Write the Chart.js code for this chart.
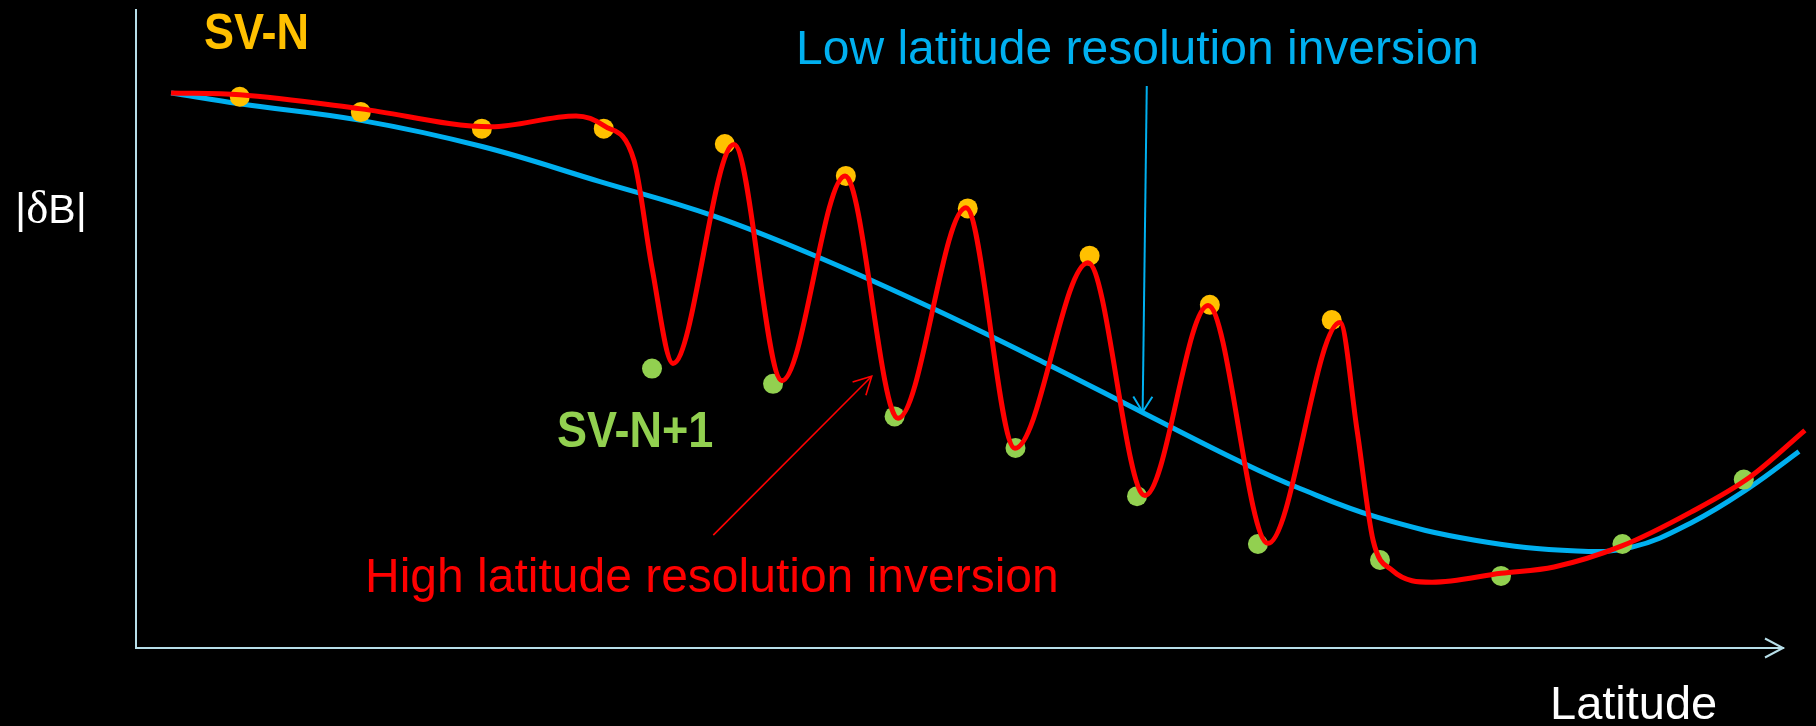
<!DOCTYPE html>
<html>
<head>
<meta charset="utf-8">
<script src="https://cdn.jsdelivr.net/npm/chart.js@4.4.1/dist/chart.umd.min.js"></script>
<style>
html, body { margin: 0; padding: 0; background: #000; overflow: hidden; }
#wrap { position: relative; width: 1816px; height: 726px; }
</style>
</head>
<body>
<div id="wrap"><canvas id="c"></canvas></div>
<script>
// ---- Data (latitude in arbitrary units 0..100, |dB| in arbitrary units 0..100) ----
const xRange = [0, 100];
const yRange = [0, 100];

// SV-N (yellow dots)
const svNLat = [6.3, 13.65, 21.0, 28.4, 35.75, 43.1, 50.5, 57.9, 65.2, 72.6];
const svNVal = [86.4, 84.0, 81.4, 81.4, 79.0, 74.0, 68.9, 61.5, 53.8, 51.4];

// SV-N+1 (green dots)
const svN1Lat = [31.33, 38.68, 46.06, 53.40, 60.78, 68.12, 75.53, 82.88, 90.25, 97.62];
const svN1Val = [43.8, 41.4, 36.3, 31.35, 23.8, 16.3, 13.8, 11.3, 16.3, 26.4];

// Low latitude resolution inversion (blue curve)
const lowResLat = [2.13, 6.31, 13.66, 21.01, 28.17, 34.97, 41.47, 48.39, 55.25, 61.20, 67.21, 70.67, 75.35, 81.30, 87.49, 90.83, 94.41, 98.00, 100.97];
const lowResVal = [87.0, 85.3, 82.7, 78.6, 73.1, 67.8, 61.2, 53.2, 44.6, 36.8, 29.0, 25.0, 20.5, 16.9, 15.2, 15.8, 19.6, 25.2, 30.8];

// High latitude resolution inversion (red curve)
const highResLat = [2.13, 6.31, 13.66, 21.55, 26.72, 28.42, 30.24, 31.33, 32.60, 36.31, 39.22, 43.05, 46.27, 50.39, 53.37, 57.80, 61.26, 65.09, 68.73, 73.10, 74.14, 75.11, 76.26, 78.69, 82.88, 86.10, 90.22, 94.41, 98.00, 101.33];
const highResVal = [87.0, 86.7, 84.5, 81.7, 83.4, 81.85, 76.4, 59.6, 44.6, 78.9, 41.9, 74.0, 36.0, 69.0, 31.3, 60.4, 23.9, 53.7, 16.4, 51.0, 34.1, 16.9, 12.2, 10.3, 11.7, 12.7, 16.0, 21.3, 26.8, 34.1];

// Annotation arrows (data coordinates: [x0, y0, x1(tip), y1(tip)])
const lowArrow = [61.37, 88.1, 61.12, 37.0];
const highArrow = [35.05, 17.7, 44.67, 42.6];

const pts = (xs, ys) => xs.map((x, i) => ({ x, y: ys[i] }));

const C_AXIS = '#B7DEE8';
const C_BLUE = '#00B0F0';
const C_RED = '#FF0000';
const C_YEL = '#FFC000';
const C_GRN = '#92D050';
const FONT = '"Liberation Sans", Arial, sans-serif';

function arrowHead(ctx, x0, y0, x1, y1, len, angDeg) {
  const a = Math.atan2(y0 - y1, x0 - x1);
  const d = angDeg * Math.PI / 180;
  ctx.beginPath();
  ctx.moveTo(x1 + len * Math.cos(a + d), y1 + len * Math.sin(a + d));
  ctx.lineTo(x1, y1);
  ctx.lineTo(x1 + len * Math.cos(a - d), y1 + len * Math.sin(a - d));
  ctx.stroke();
}

function condensedText(ctx, text, x, y, sx) {
  ctx.save();
  ctx.translate(x, y);
  ctx.scale(sx, 1);
  ctx.fillText(text, 0, 0);
  ctx.restore();
}

const decor = {
  id: 'decor',
  beforeDraw(chart) {
    const ctx = chart.ctx;
    ctx.save();
    ctx.fillStyle = '#000';
    ctx.fillRect(0, 0, chart.width, chart.height);
    ctx.restore();
  },
  afterDraw(chart) {
    const { ctx, scales: { x, y } } = chart;
    ctx.save();
    // x-axis arrow head
    ctx.strokeStyle = C_AXIS;
    ctx.lineWidth = 2;
    ctx.lineCap = 'butt';
    const ay = y.getPixelForValue(yRange[0]);
    ctx.beginPath();
    ctx.moveTo(x.right - 18, ay - 9.5);
    ctx.lineTo(x.right, ay);
    ctx.lineTo(x.right - 18, ay + 9.5);
    ctx.stroke();

    // blue arrow
    ctx.strokeStyle = C_BLUE;
    ctx.lineWidth = 2;
    let p0x = x.getPixelForValue(lowArrow[0]), p0y = y.getPixelForValue(lowArrow[1]);
    let p1x = x.getPixelForValue(lowArrow[2]), p1y = y.getPixelForValue(lowArrow[3]);
    ctx.beginPath(); ctx.moveTo(p0x, p0y); ctx.lineTo(p1x, p1y); ctx.stroke();
    arrowHead(ctx, p0x, p0y, p1x, p1y, 18, 32);

    // red arrow
    ctx.strokeStyle = C_RED;
    ctx.lineWidth = 1.6;
    p0x = x.getPixelForValue(highArrow[0]); p0y = y.getPixelForValue(highArrow[1]);
    p1x = x.getPixelForValue(highArrow[2]); p1y = y.getPixelForValue(highArrow[3]);
    ctx.beginPath(); ctx.moveTo(p0x, p0y); ctx.lineTo(p1x, p1y); ctx.stroke();
    arrowHead(ctx, p0x, p0y, p1x, p1y, 20, 28);

    // texts
    ctx.textBaseline = 'alphabetic';
    ctx.textAlign = 'left';
    ctx.font = 'bold 50px ' + FONT;
    ctx.fillStyle = C_YEL;
    condensedText(ctx, 'SV-N', 204, 49, 0.9);
    ctx.fillStyle = C_GRN;
    condensedText(ctx, 'SV-N+1', 557, 447, 0.9);
    ctx.fillStyle = C_BLUE;
    ctx.font = '48px ' + FONT;
    ctx.fillText('Low latitude resolution inversion', 796, 64);
    ctx.fillStyle = C_RED;
    ctx.fillText('High latitude resolution inversion', 365, 592);
    ctx.fillStyle = '#FFFFFF';
    ctx.font = '47px ' + FONT;
    ctx.fillText('Latitude', 1550, 719);

    // y title |δB|
    let tx = 15;
    const by = 223;
    ctx.font = '43px ' + FONT;
    ctx.fillText('|', tx, by); tx += ctx.measureText('|').width;
    ctx.font = '47px "Liberation Serif", "DejaVu Serif", serif';
    ctx.fillText('δ', tx, by); tx += ctx.measureText('δ').width;
    ctx.font = '41px ' + FONT;
    ctx.fillText('B', tx, by); tx += ctx.measureText('B').width;
    ctx.font = '43px ' + FONT;
    ctx.fillText('|', tx, by);
    ctx.restore();
  }
};

Chart.defaults.font.family = FONT;

new Chart(document.getElementById('c'), {
  type: 'line',
  data: {
    datasets: [
      {
        label: 'High latitude resolution inversion',
        data: pts(highResLat, highResVal),
        borderColor: C_RED,
        borderWidth: 5,
        pointRadius: 0,
        cubicInterpolationMode: 'monotone',
        fill: false,
        clip: false,
        order: 0
      },
      {
        label: 'SV-N',
        data: pts(svNLat, svNVal),
        showLine: false,
        pointRadius: 10,
        pointBorderWidth: 0,
        pointBackgroundColor: C_YEL,
        borderColor: C_YEL,
        backgroundColor: C_YEL,
        order: 1
      },
      {
        label: 'SV-N+1',
        data: pts(svN1Lat, svN1Val),
        showLine: false,
        pointRadius: 10,
        pointBorderWidth: 0,
        pointBackgroundColor: C_GRN,
        borderColor: C_GRN,
        backgroundColor: C_GRN,
        order: 1
      },
      {
        label: 'Low latitude resolution inversion',
        data: pts(lowResLat, lowResVal),
        borderColor: C_BLUE,
        borderWidth: 5,
        pointRadius: 0,
        tension: 0.4,
        fill: false,
        clip: false,
        order: 2
      }
    ]
  },
  options: {
    responsive: true,
    maintainAspectRatio: false,
    animation: false,
    events: [],
    layout: { padding: { left: 136, right: 33, top: 9, bottom: 78 } },
    plugins: { legend: { display: false }, tooltip: { enabled: false }, title: { display: false } },
    scales: {
      x: {
        type: 'linear',
        min: xRange[0], max: xRange[1],
        ticks: { display: false },
        grid: { display: true, color: 'rgba(0,0,0,0)', drawTicks: false },
        border: { display: true, color: C_AXIS, width: 2 }
      },
      y: {
        type: 'linear',
        min: yRange[0], max: yRange[1],
        ticks: { display: false },
        grid: { display: true, color: 'rgba(0,0,0,0)', drawTicks: false },
        border: { display: true, color: C_AXIS, width: 2 }
      }
    }
  },
  plugins: [decor]
});
</script>
</body>
</html>
